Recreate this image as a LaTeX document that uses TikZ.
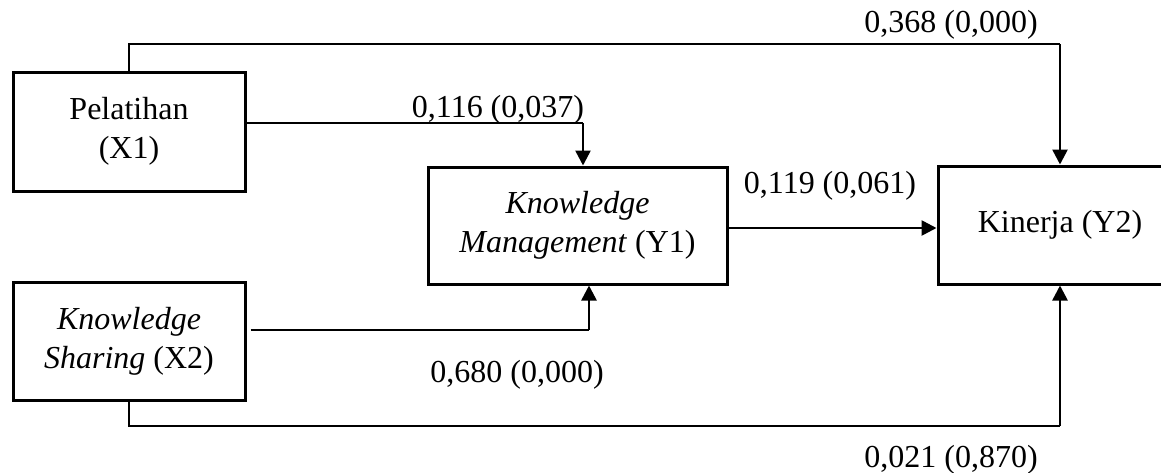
\documentclass[tikz,border=0pt]{standalone}
\usepackage{fontspec}
\setmainfont{Liberation Serif}
\usetikzlibrary{arrows.meta}
\newcommand\bigf{\fontsize{32}{39}\selectfont}
\begin{document}
\begin{tikzpicture}[x=1pt,y=-1pt,
  box/.style={draw,line width=3pt,inner sep=0pt,align=center,font=\bigf},
  lbl/.style={font=\bigf,anchor=base,inner sep=0pt},
  thinl/.style={line width=1.4pt},
  arr/.style={line width=2.6pt,-{Triangle[length=15pt,width=15pt]}}]
\clip (0,0) rectangle (1161,472);
\node[box,minimum width=232pt,minimum height=119pt] (P) at (129,131.5) {Pelatihan\\(X1)};
\node[box,minimum width=232pt,minimum height=118pt] (S) at (129,341) {\textit{Knowledge}\\\textit{Sharing} (X2)};
\node[box,minimum width=299pt,minimum height=117pt] (M) at (577.5,225.5) {\textit{Knowledge}\\\textit{Management} (Y1)};
\node[box,minimum width=244pt,minimum height=118pt] (K) at (1060,225) {Kinerja (Y2)};
% coordinates of connector corners
\coordinate (t2) at (1060,44);
\coordinate (a1) at (583,123);
\coordinate (a2) at (589,330);
\coordinate (h) at (0,228);
\coordinate (b2) at (1060,426);
% connectors
\draw[thinl] (P.north) |- (t2);
\draw[arr] (t2) -- (K.north);
\draw[thinl] (P.east |- a1) -- (a1);
\draw[arr] (a1) -- (a1 |- M.north);
\draw[thinl] ([xshift=4pt]S.east |- a2) -- (a2);
\draw[arr] (a2) -- (a2 |- M.south);
\draw[arr] (M.east |- h) -- (K.west |- h);
\draw[thinl] (S.south) |- (b2);
\draw[arr] (b2) -- (K.south);
% labels
\node[lbl] (l1) at (951,32) {0,368 (0,000)};
\node[lbl] (l2) at (498,117) {0,116 (0,037)};
\node[lbl] (l3) at (830,193) {0,119 (0,061)};
\node[lbl] (l4) at (517,382) {0,680 (0,000)};
\node[lbl] (l5) at (951,467) {0,021 (0,870)};
\end{tikzpicture}
\end{document}
